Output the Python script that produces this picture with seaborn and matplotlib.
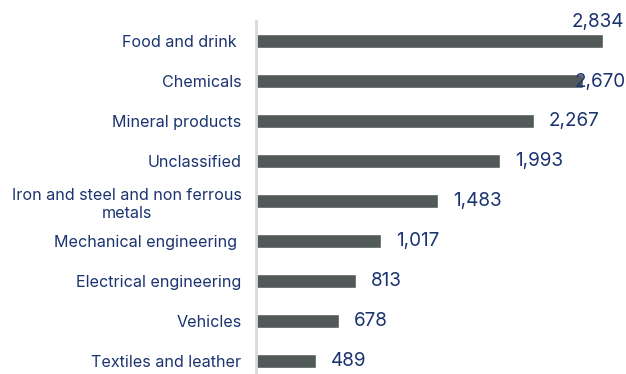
import matplotlib
matplotlib.use("Agg")
import matplotlib.pyplot as plt
import seaborn as sns
import pandas as pd

sectors = [
    "Food and drink ",
    "Chemicals",
    "Mineral products",
    "Unclassified",
    "Iron and steel and non ferrous\nmetals",
    "Mechanical engineering ",
    "Electrical engineering",
    "Vehicles",
    "Textiles and leather",
]
values = [2834, 2670, 2267, 1993, 1483, 1017, 813, 678, 489]

df = pd.DataFrame({"sector": sectors, "value": values})

sns.set_theme(style="white")
plt.rcParams["font.family"] = ["Inter", "DejaVu Sans"]

text_color = "#1b3470"
bar_color = "#525959"

W, H = 626, 374
fig = plt.figure(figsize=(W / 100, H / 100), dpi=100)
ax_left, ax_right = 256, 626
ax_top, ax_bottom = 21, 381
ax = fig.add_axes([ax_left / W, (H - ax_bottom) / H,
                   (ax_right - ax_left) / W, (ax_bottom - ax_top) / H])

sns.barplot(data=df, y="sector", x="value", orient="h", color=bar_color,
            width=0.36, saturation=1, ax=ax)

px_per_unit = 347 / 2834
ax.set_xlim(0, (ax_right - ax_left) / px_per_unit)
ax.set_ylim(len(sectors) - 0.5, -0.5)

ax.set_xlabel("")
ax.set_ylabel("")
ax.set_xticks([])
ax.tick_params(axis="y", length=0, pad=10.5, labelsize=11.6, labelcolor=text_color)
for lbl in ax.get_yticklabels():
    lbl.set_multialignment("center")
    lbl.set_linespacing(1.25)

for side in ["top", "right", "bottom"]:
    ax.spines[side].set_visible(False)
ax.spines["left"].set_color("#d9d9d9")
ax.spines["left"].set_linewidth(2)

# value labels: right of each bar, pulled back inside the figure when they overflow
fig.canvas.draw()
renderer = fig.canvas.get_renderer()
gap = 11
for i, v in enumerate(values):
    t = ax.annotate(f"{v:,}", xy=(v, i), xytext=(gap, 0), textcoords="offset points",
                    ha="left", va="center", fontsize=13.6, color=text_color,
                    annotation_clip=False)
    bb = t.get_window_extent(renderer)
    overflow = bb.x1 - W
    if overflow > 0:
        if i == 0:
            # widest bar: label sits above the bar end
            t.set_position((gap - (overflow + 2) * 0.72, 14))
        else:
            t.set_position((gap - overflow * 0.72, -0.7))

fig.savefig("out.png", dpi=100)
